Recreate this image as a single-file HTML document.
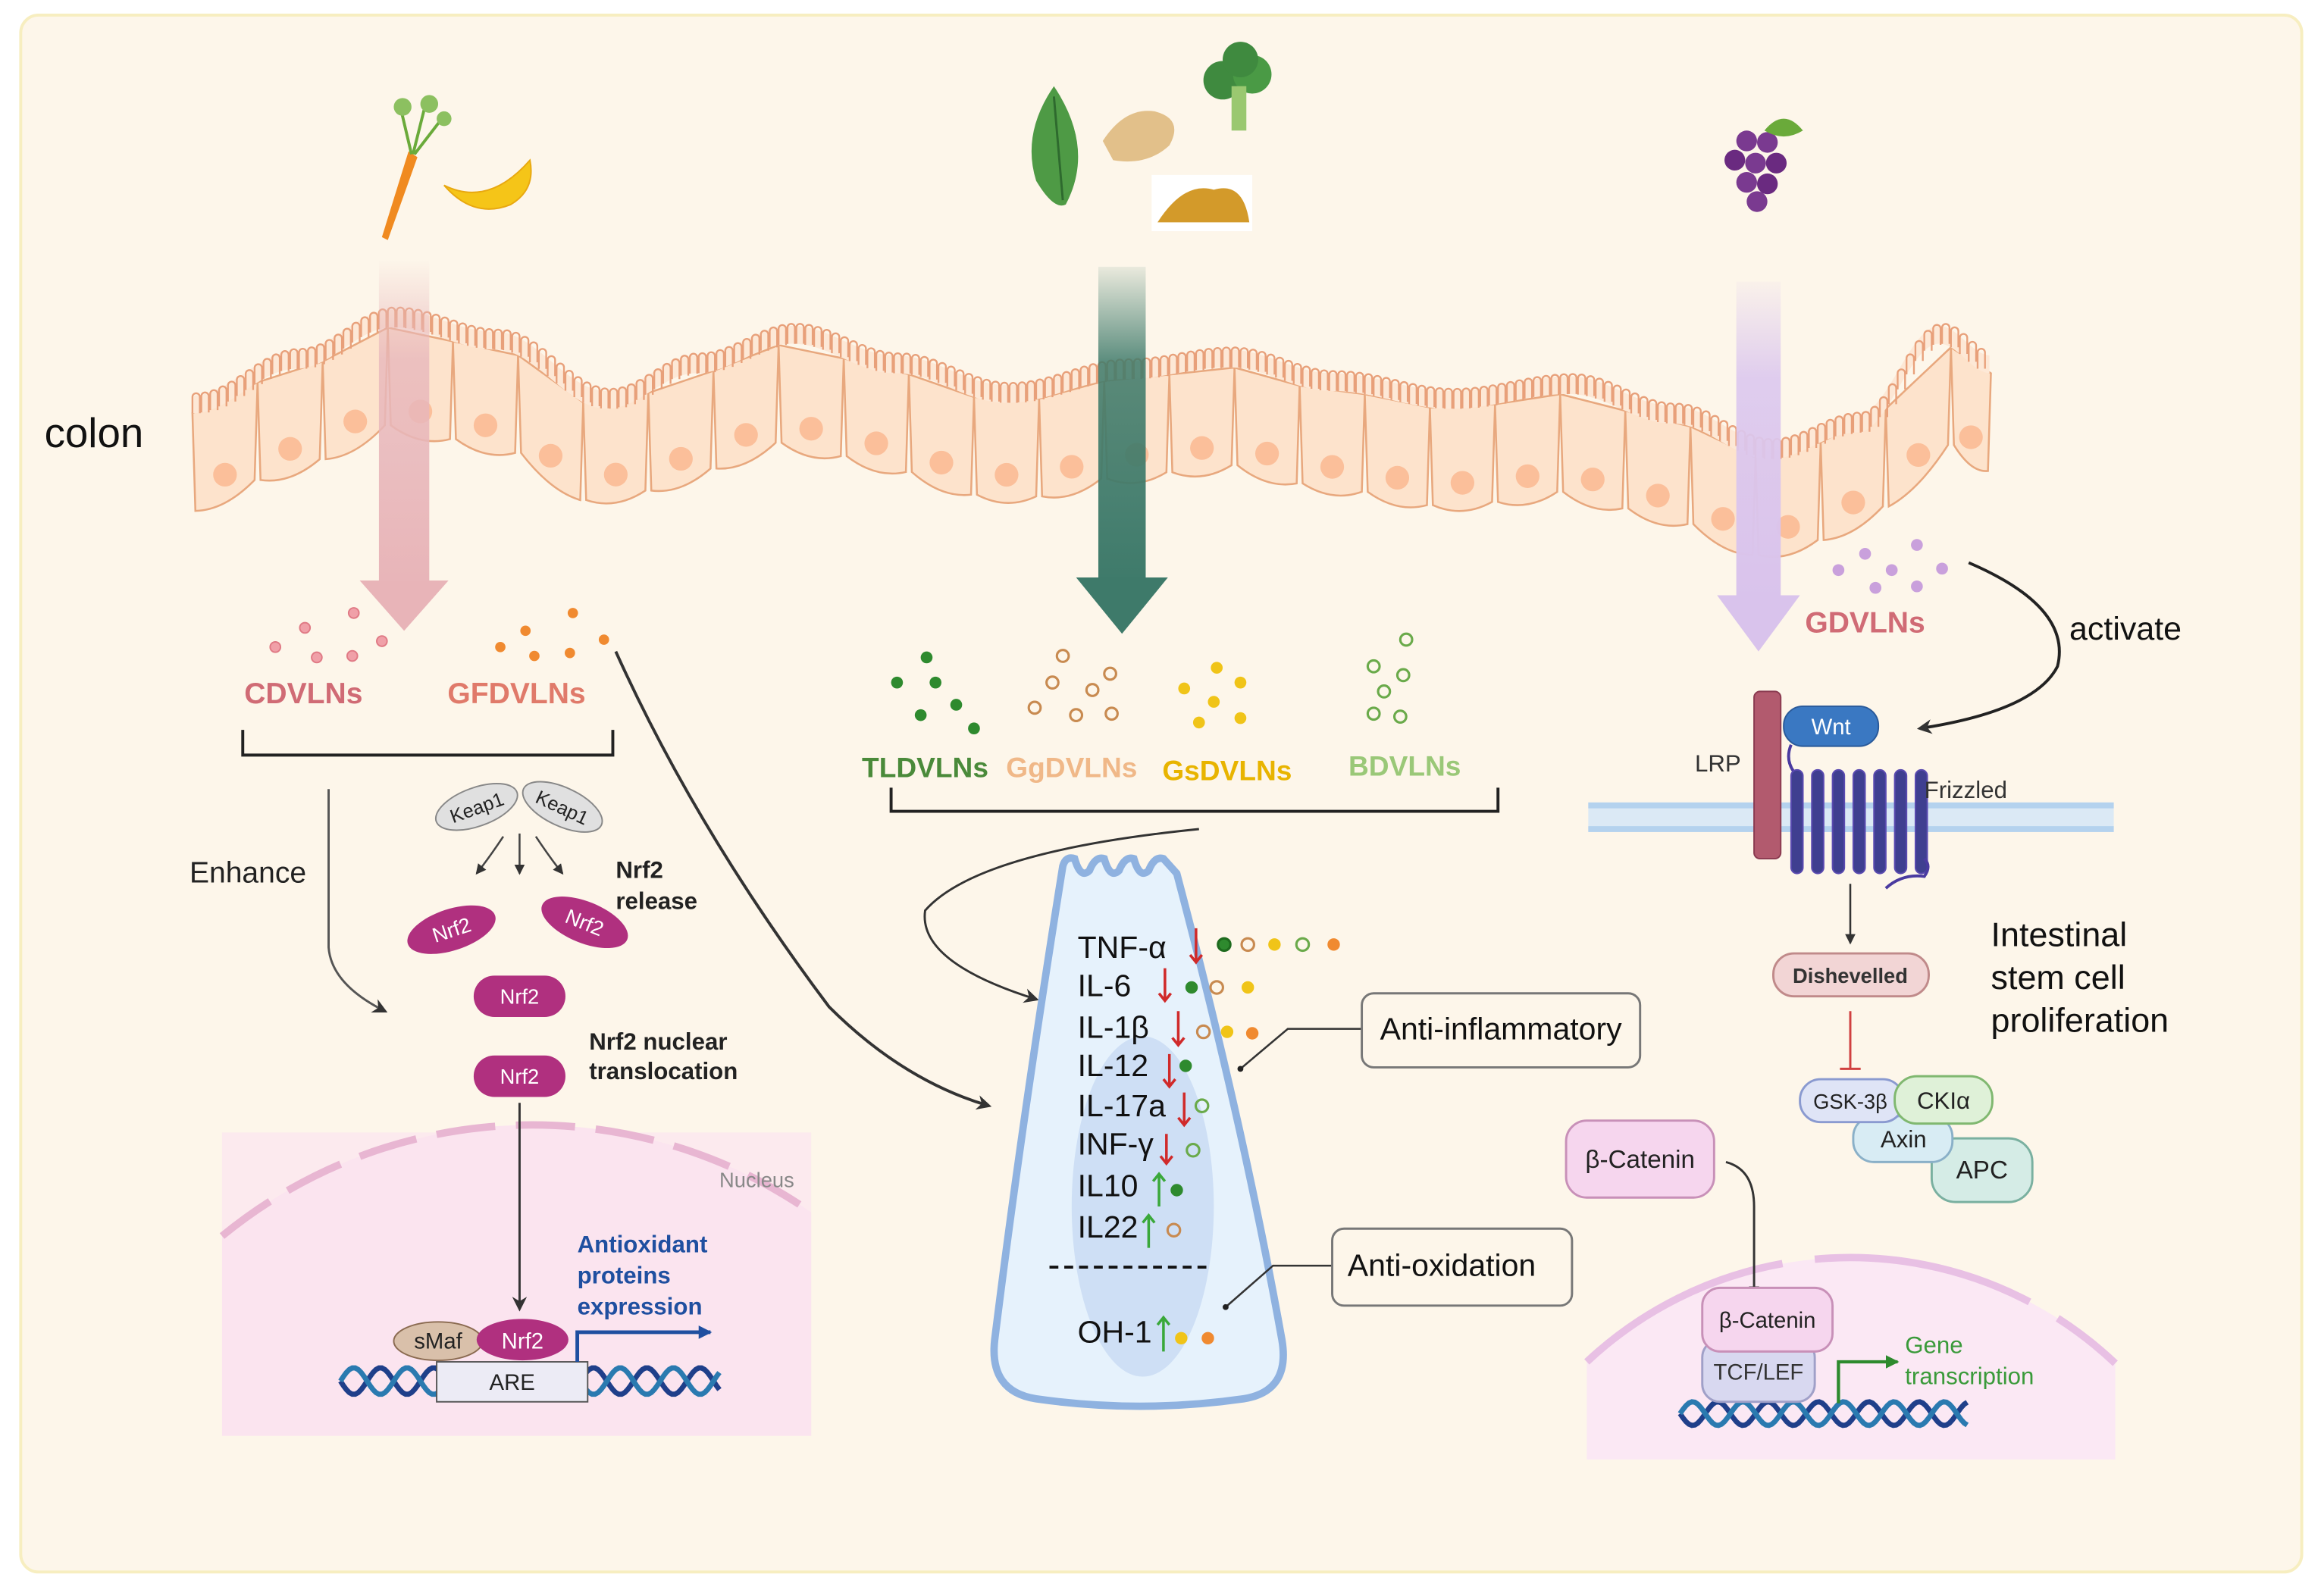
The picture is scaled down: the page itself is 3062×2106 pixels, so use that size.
<!DOCTYPE html>
<html><head><meta charset="utf-8"><style>
html,body{margin:0;padding:0;background:#fff;width:3062px;height:2106px;overflow:hidden;}
svg{display:block;font-family:"Liberation Sans",sans-serif;}
</style></head><body>
<svg id="s" width="3062" height="2106" viewBox="0 0 1568 1078" xmlns="http://www.w3.org/2000/svg">
<defs>
<linearGradient id="gp" x1="0" y1="0" x2="0" y2="1"><stop offset="0" stop-color="#e8b8bc" stop-opacity="0"/><stop offset="0.3" stop-color="#e8b8bc" stop-opacity="0.8"/><stop offset="1" stop-color="#e8b4b8"/></linearGradient>
<linearGradient id="gt" x1="0" y1="0" x2="0" y2="1"><stop offset="0" stop-color="#3e7a6a" stop-opacity="0.1"/><stop offset="0.3" stop-color="#3e7a6a" stop-opacity="0.85"/><stop offset="1" stop-color="#3e7a6a"/></linearGradient>
<linearGradient id="gl" x1="0" y1="0" x2="0" y2="1"><stop offset="0" stop-color="#dcc8ee" stop-opacity="0.1"/><stop offset="0.3" stop-color="#dcc8ee" stop-opacity="0.9"/><stop offset="1" stop-color="#d9c3ec"/></linearGradient>
<marker id="ah" markerWidth="10" markerHeight="10" refX="8" refY="5" orient="auto" markerUnits="userSpaceOnUse"><path d="M0,0 L10,5 L0,10 L3,5z" fill="#333"/></marker>
<marker id="ahs" markerWidth="7" markerHeight="7" refX="6" refY="3.5" orient="auto" markerUnits="userSpaceOnUse"><path d="M0,0 L7,3.5 L0,7z" fill="#333"/></marker>
<marker id="ahb" markerWidth="9" markerHeight="9" refX="8" refY="4.5" orient="auto" markerUnits="userSpaceOnUse"><path d="M0,0 L9,4.5 L0,9z" fill="#1f4fa0"/></marker>
<marker id="ahg" markerWidth="9" markerHeight="9" refX="8" refY="4.5" orient="auto" markerUnits="userSpaceOnUse"><path d="M0,0 L9,4.5 L0,9z" fill="#2d8a2d"/></marker>
</defs>
<rect width="1568" height="1078" fill="#fff"/>
<rect x="14" y="10" width="1541" height="1052" rx="12" fill="#fdf6ea" stroke="#f7eec0" stroke-width="2"/>

<g id="colon"></g>
<text x="30" y="302" font-size="28" fill="#111">colon</text>

<rect x="256" y="175" width="34" height="225" fill="url(#gp)"/>
<path d="M243,392 L303,392 L273,426z" fill="#e8b4b8"/>
<rect x="742" y="180" width="32" height="215" fill="url(#gt)"/>
<path d="M727,390 L789,390 L758,428z" fill="#3e7a6a"/>
<rect x="1173" y="190" width="30" height="215" fill="url(#gl)"/>
<path d="M1160,402 L1216,402 L1188,440z" fill="#d9c3ec"/>

<path d="M276,102 L258,160 L262,162 L282,106z" fill="#f08a20"/>
<g stroke="#6aaa3a" stroke-width="2" fill="none"><path d="M278,104 L270,70 M279,104 L288,68 M280,104 L300,78"/></g>
<circle cx="272" cy="72" r="6" fill="#8cc060"/><circle cx="290" cy="70" r="6" fill="#8cc060"/><circle cx="300" cy="80" r="5" fill="#8cc060"/>
<path d="M300,125 Q330,140 358,108 Q362,128 345,138 Q320,148 300,125z" fill="#f5c518" stroke="#e8a810"/>
<path d="M712,58 Q690,90 700,122 Q712,142 720,138 Q740,100 712,58z" fill="#4e9a45"/>
<path d="M712,65 L718,135" stroke="#2e6a2e" stroke-width="1.5"/>
<path d="M745,95 Q760,72 780,75 Q800,80 790,98 Q775,112 752,108z" fill="#e2c08a"/>
<circle cx="826" cy="54" r="13" fill="#3f8a3f"/><circle cx="846" cy="50" r="13" fill="#4a9a45"/><circle cx="838" cy="40" r="12" fill="#3f8a3f"/>
<rect x="832" y="58" width="10" height="30" fill="#9ac870"/>
<rect x="778" y="118" width="68" height="38" fill="#fff"/>
<path d="M782,150 Q800,122 820,128 Q840,122 844,150z" fill="#d39a2a"/>
<circle cx="1180" cy="95" r="7" fill="#7a3a90"/><circle cx="1194" cy="96" r="7" fill="#7a3a90"/><circle cx="1172" cy="108" r="7" fill="#6a2a80"/><circle cx="1186" cy="110" r="7" fill="#7a3a90"/><circle cx="1200" cy="110" r="7" fill="#6a2a80"/><circle cx="1180" cy="123" r="7" fill="#7a3a90"/><circle cx="1194" cy="124" r="7" fill="#6a2a80"/><circle cx="1187" cy="136" r="7" fill="#7a3a90"/>
<path d="M1192,88 Q1205,72 1218,88 Q1205,96 1192,88z" fill="#6aaa3a"/>

<g fill="#f0a0a8" stroke="#e07a85"><circle cx="186" cy="437" r="3.5"/><circle cx="206" cy="424" r="3.5"/><circle cx="214" cy="444" r="3.5"/><circle cx="239" cy="414" r="3.5"/><circle cx="238" cy="443" r="3.5"/><circle cx="258" cy="433" r="3.5"/></g>
<g fill="#f08a30"><circle cx="338" cy="437" r="3.5"/><circle cx="355" cy="426" r="3.5"/><circle cx="361" cy="443" r="3.5"/><circle cx="387" cy="414" r="3.5"/><circle cx="385" cy="441" r="3.5"/><circle cx="408" cy="432" r="3.5"/></g>
<text x="205" y="475" font-size="20" font-weight="bold" fill="#d06b75" text-anchor="middle">CDVLNs</text>
<text x="349" y="475" font-size="20" font-weight="bold" fill="#e07a6a" text-anchor="middle">GFDVLNs</text>
<path d="M164,493 V510 H414 V493" fill="none" stroke="#222" stroke-width="2"/>
<text x="128" y="596" font-size="20" fill="#222">Enhance</text>
<path d="M222,533 V640 Q224,665 260,683" fill="none" stroke="#555" stroke-width="1.5" marker-end="url(#ah)"/>
<path d="M416,440 Q470,560 560,680 Q610,730 668,747" fill="none" stroke="#333" stroke-width="2" marker-end="url(#ah)"/>
<g transform="translate(322,545) rotate(-20)"><ellipse rx="29" ry="13" fill="#e0e0e0" stroke="#888"/><text y="5" font-size="13" text-anchor="middle" fill="#222">Keap1</text></g>
<g transform="translate(380,545) rotate(25)"><ellipse rx="29" ry="13" fill="#e0e0e0" stroke="#888"/><text y="5" font-size="13" text-anchor="middle" fill="#222">Keap1</text></g>
<g stroke="#444" stroke-width="1.3" fill="none"><path d="M340,565 Q330,580 322,590" marker-end="url(#ahs)"/><path d="M351,563 V590" marker-end="url(#ahs)"/><path d="M362,565 Q372,580 380,590" marker-end="url(#ahs)"/></g>
<g transform="translate(305,628) rotate(-18)"><ellipse rx="31" ry="14" fill="#b0307f"/><text y="5" font-size="14" text-anchor="middle" fill="#fff">Nrf2</text></g>
<g transform="translate(395,623) rotate(22)"><ellipse rx="31" ry="14" fill="#b0307f"/><text y="5" font-size="14" text-anchor="middle" fill="#fff">Nrf2</text></g>
<rect x="320" y="659" width="62" height="28" rx="14" fill="#b0307f"/><text x="351" y="678" font-size="14" text-anchor="middle" fill="#fff">Nrf2</text>
<rect x="320" y="713" width="62" height="28" rx="14" fill="#b0307f"/><text x="351" y="732" font-size="14" text-anchor="middle" fill="#fff">Nrf2</text>
<text font-size="16" font-weight="bold" fill="#222"><tspan x="416" y="593">Nrf2</tspan><tspan x="416" y="614">release</tspan><tspan x="398" y="709">Nrf2 nuclear</tspan><tspan x="398" y="729">translocation</tspan></text>
<rect x="150" y="765" width="398" height="205" fill="#fbe6ef" opacity="0.7"/>
<path d="M150,835 A330,330 0 0 1 548,819 L548,970 L150,970 Z" fill="#fbe4ef"/>
<path d="M150,835 A330,330 0 0 1 548,819" fill="none" stroke="#e8b6d2" stroke-width="5" stroke-dasharray="40 14"/>
<text x="486" y="802" font-size="14" fill="#888">Nucleus</text>
<path d="M351,745 V884" stroke="#333" stroke-width="1.5" marker-end="url(#ah)"/>
<g id="dna1"></g>
<rect x="295" y="920" width="102" height="27" fill="#ecebf5" stroke="#555"/><text x="346" y="939" font-size="15" text-anchor="middle" fill="#222">ARE</text>
<ellipse cx="296" cy="906" rx="30" ry="13" fill="#d9c0aa" stroke="#8a6a50"/><text x="296" y="911" font-size="15" text-anchor="middle" fill="#222">sMaf</text>
<ellipse cx="353" cy="905" rx="31" ry="14" fill="#b0307f"/><text x="353" y="911" font-size="15" text-anchor="middle" fill="#fff">Nrf2</text>
<path d="M390,920 V900 H480" fill="none" stroke="#1f4fa0" stroke-width="2.5" marker-end="url(#ahb)"/>
<text font-size="16" font-weight="bold" fill="#1f4fa0"><tspan x="390" y="846">Antioxidant</tspan><tspan x="390" y="867">proteins</tspan><tspan x="390" y="888">expression</tspan></text>

<g fill="#2e8a2e"><circle cx="626" cy="444" r="4"/><circle cx="606" cy="461" r="4"/><circle cx="632" cy="461" r="4"/><circle cx="646" cy="476" r="4"/><circle cx="622" cy="483" r="4"/><circle cx="658" cy="492" r="4"/></g>
<g fill="none" stroke="#c88a50" stroke-width="1.6"><circle cx="718" cy="443" r="4"/><circle cx="711" cy="461" r="4"/><circle cx="738" cy="466" r="4"/><circle cx="750" cy="455" r="4"/><circle cx="699" cy="478" r="4"/><circle cx="727" cy="483" r="4"/><circle cx="751" cy="482" r="4"/></g>
<g fill="#f0c418"><circle cx="822" cy="451" r="4"/><circle cx="800" cy="465" r="4"/><circle cx="838" cy="461" r="4"/><circle cx="820" cy="474" r="4"/><circle cx="810" cy="488" r="4"/><circle cx="838" cy="485" r="4"/></g>
<g fill="none" stroke="#6aaa4a" stroke-width="1.6"><circle cx="950" cy="432" r="4"/><circle cx="928" cy="450" r="4"/><circle cx="948" cy="456" r="4"/><circle cx="935" cy="467" r="4"/><circle cx="928" cy="482" r="4"/><circle cx="946" cy="484" r="4"/></g>
<g font-size="19" font-weight="bold" text-anchor="middle">
<text x="625" y="525" fill="#4a8a3a">TLDVLNs</text><text x="724" y="525" fill="#f0b888">GgDVLNs</text><text x="829" y="527" fill="#e8b400">GsDVLNs</text><text x="949" y="524" fill="#9ac878">BDVLNs</text></g>
<path d="M602,532 V548 H1012 V532" fill="none" stroke="#222" stroke-width="2"/>
<path d="M810,560 Q660,575 625,615 Q620,650 700,675" fill="none" stroke="#333" stroke-width="1.5" marker-end="url(#ah)"/>
<path d="M718,585 Q720,578 726,580 Q730,594 736,588 Q740,578 746,580 Q750,594 756,588 Q760,578 766,580 Q770,594 776,588 Q780,578 786,580 L795,590 Q840,760 866,905 Q872,940 840,945 Q770,955 700,945 Q668,940 672,905 Q690,760 718,585z" fill="#e6f2fc" stroke="#8fb2e0" stroke-width="5"/>
<ellipse cx="772" cy="815" rx="48" ry="115" fill="#c9dcf3" opacity="0.85"/>
<g font-size="21" fill="#111">
<text x="728" y="647">TNF-α</text><text x="728" y="673">IL-6</text><text x="728" y="701">IL-1β</text><text x="728" y="727">IL-12</text><text x="728" y="754">IL-17a</text><text x="728" y="780">INF-γ</text><text x="728" y="808">IL10</text><text x="728" y="836">IL22</text><text x="728" y="907">OH-1</text></g>
<path d="M709,856 H815" stroke="#111" stroke-width="2" stroke-dasharray="6 4"/>
<g stroke="#d02a2a" stroke-width="1.8" fill="none">
<path d="M808,627 V650 M804,645 L808,650 L812,645"/><path d="M787,654 V676 M783,671 L787,676 L791,671"/><path d="M796,683 V706 M792,701 L796,706 L800,701"/><path d="M790,712 V734 M786,729 L790,734 L794,729"/><path d="M800,738 V760 M796,755 L800,760 L804,755"/><path d="M788,766 V786 M784,781 L788,786 L792,781"/></g>
<g stroke="#3aa83a" stroke-width="1.8" fill="none">
<path d="M783,815 V793 M779,798 L783,793 L787,798"/><path d="M776,843 V821 M772,826 L776,821 L780,826"/><path d="M786,913 V890 M782,895 L786,890 L790,895"/></g>
<g stroke-width="1.6">
<circle cx="827" cy="638" r="4.2" fill="#2e8a2e" stroke="#1e6a1e"/><circle cx="843" cy="638" r="4.2" fill="none" stroke="#c88a50"/><circle cx="861" cy="638" r="4.2" fill="#f0c418" stroke="none"/><circle cx="880" cy="638" r="4.2" fill="none" stroke="#6aaa4a"/><circle cx="901" cy="638" r="4.2" fill="#f08a30" stroke="none"/>
<circle cx="805" cy="667" r="4.2" fill="#2e8a2e" stroke="none"/><circle cx="822" cy="667" r="4.2" fill="none" stroke="#c88a50"/><circle cx="843" cy="667" r="4.2" fill="#f0c418" stroke="none"/>
<circle cx="813" cy="697" r="4.2" fill="none" stroke="#c88a50"/><circle cx="829" cy="697" r="4.2" fill="#f0c418" stroke="none"/><circle cx="846" cy="698" r="4.2" fill="#f08a30" stroke="none"/>
<circle cx="801" cy="720" r="4.2" fill="#2e8a2e" stroke="none"/>
<circle cx="812" cy="747" r="4.2" fill="none" stroke="#6aaa4a"/>
<circle cx="806" cy="777" r="4.2" fill="none" stroke="#6aaa4a"/>
<circle cx="795" cy="804" r="4.2" fill="#2e8a2e" stroke="none"/>
<circle cx="793" cy="831" r="4.2" fill="none" stroke="#c88a50"/>
<circle cx="798" cy="904" r="4.2" fill="#f0c418" stroke="none"/><circle cx="816" cy="904" r="4.2" fill="#f08a30" stroke="none"/></g>
<path d="M838,722 L870,695 H920" fill="none" stroke="#333" stroke-width="1.3"/><circle cx="838" cy="722" r="2" fill="#222"/>
<rect x="920" y="671" width="188" height="50" rx="8" fill="#fdf6ea" stroke="#777" stroke-width="1.5"/><text x="1014" y="702" font-size="21" text-anchor="middle" fill="#111">Anti-inflammatory</text>
<path d="M828,883 L860,855 H900" fill="none" stroke="#333" stroke-width="1.3"/><circle cx="828" cy="883" r="2" fill="#222"/>
<rect x="900" y="830" width="162" height="52" rx="8" fill="#fdf6ea" stroke="#777" stroke-width="1.5"/><text x="974" y="862" font-size="21" text-anchor="middle" fill="#111">Anti-oxidation</text>

<g fill="#c9a0dc"><circle cx="1242" cy="385" r="4"/><circle cx="1260" cy="374" r="4"/><circle cx="1278" cy="385" r="4"/><circle cx="1295" cy="368" r="4"/><circle cx="1312" cy="384" r="4"/><circle cx="1295" cy="396" r="4"/><circle cx="1267" cy="397" r="4"/></g>
<text x="1260" y="427" font-size="20" font-weight="bold" fill="#d06b75" text-anchor="middle">GDVLNs</text>
<text x="1398" y="432" font-size="22" fill="#111">activate</text>
<path d="M1330,380 Q1400,410 1390,450 Q1375,480 1297,492" fill="none" stroke="#222" stroke-width="2" marker-end="url(#ah)"/>
<rect x="1073" y="542" width="355" height="20" fill="#dbe9f5"/>
<path d="M1073,544 H1428 M1073,560 H1428" stroke="#b4d2ee" stroke-width="4"/>
<rect x="1185" y="467" width="18" height="113" rx="4" fill="#b25a6e" stroke="#8a3a50"/>
<text x="1145" y="521" font-size="16" fill="#333">LRP</text>
<path d="M1210,503 Q1205,515 1215,525" fill="none" stroke="#4a3aa0" stroke-width="2"/>
<g fill="#3f3f90" stroke="#5a4ab0" stroke-width="1">
<rect x="1210" y="520" width="8" height="70" rx="4"/><rect x="1224" y="520" width="8" height="70" rx="4"/><rect x="1238" y="520" width="8" height="70" rx="4"/><rect x="1252" y="520" width="8" height="70" rx="4"/><rect x="1266" y="520" width="8" height="70" rx="4"/><rect x="1280" y="520" width="8" height="70" rx="4"/><rect x="1294" y="520" width="8" height="70" rx="4"/></g>
<path d="M1274,600 Q1285,590 1300,592 Q1305,585 1300,580" fill="none" stroke="#4a3aa0" stroke-width="2"/>
<rect x="1205" y="477" width="64" height="27" rx="13" fill="#3a78c2" stroke="#2a5a9a"/><text x="1237" y="496" font-size="15" fill="#fff" text-anchor="middle">Wnt</text>
<text x="1300" y="539" font-size="16" fill="#333">Frizzled</text>
<path d="M1250,597 V637" stroke="#333" stroke-width="1.3" marker-end="url(#ahs)"/>
<rect x="1198" y="644" width="105" height="29" rx="14" fill="#f2d5d5" stroke="#c08a8a" stroke-width="1.5"/><text x="1250" y="664" font-size="14" font-weight="bold" fill="#333" text-anchor="middle">Dishevelled</text>
<path d="M1250,683 V722 M1243,722 H1257" stroke="#d04040" stroke-width="1.5"/>
<rect x="1305" y="769" width="68" height="43" rx="16" fill="#d5ece6" stroke="#7ab0a0" stroke-width="1.5"/><text x="1339" y="796" font-size="17" text-anchor="middle" fill="#222">APC</text>
<rect x="1252" y="754" width="67" height="31" rx="14" fill="#d8ecf4" stroke="#8ab0c8" stroke-width="1.5"/><text x="1286" y="775" font-size="16" text-anchor="middle" fill="#222">Axin</text>
<rect x="1216" y="729" width="70" height="29" rx="14" fill="#dfe4f6" stroke="#8a9ad0" stroke-width="1.5"/><text x="1250" y="749" font-size="14" text-anchor="middle" fill="#222">GSK-3β</text>
<rect x="1280" y="727" width="66" height="32" rx="15" fill="#dff1d8" stroke="#80b870" stroke-width="1.5"/><text x="1313" y="749" font-size="16" text-anchor="middle" fill="#222">CKIα</text>
<text font-size="23" fill="#111"><tspan x="1345" y="639">Intestinal</tspan><tspan x="1345" y="668">stem cell</tspan><tspan x="1345" y="697">proliferation</tspan></text>
<rect x="1058" y="757" width="100" height="52" rx="14" fill="#f6d6ee" stroke="#c890b8" stroke-width="1.5"/><text x="1108" y="789" font-size="17" text-anchor="middle" fill="#222">β-Catenin</text>
<path d="M1072,920 A260,260 0 0 1 1429,921 L1429,986 L1072,986 Z" fill="#fbe8f4"/>
<path d="M1072,920 A260,260 0 0 1 1429,921" fill="none" stroke="#e8c0e4" stroke-width="5" stroke-dasharray="150 22"/>
<path d="M1166,785 Q1185,790 1185,815 V875" fill="none" stroke="#333" stroke-width="1.5" marker-end="url(#ahs)"/>
<g id="dna2"></g>
<rect x="1150" y="905" width="76" height="42" rx="12" fill="#d8d8f0" stroke="#a0a0c8" stroke-width="1.5"/><text x="1188" y="932" font-size="15" text-anchor="middle" fill="#333">TCF/LEF</text>
<rect x="1150" y="870" width="88" height="43" rx="12" fill="#f6d6ee" stroke="#c890b8" stroke-width="1.5"/><text x="1194" y="897" font-size="15" text-anchor="middle" fill="#222">β-Catenin</text>
<path d="M1242,948 V920 H1282" fill="none" stroke="#2d8a2d" stroke-width="2.2" marker-end="url(#ahg)"/>
<text font-size="16" fill="#3a9a3a"><tspan x="1287" y="914">Gene</tspan><tspan x="1287" y="935">transcription</tspan></text>
</svg>
<script>
(function(){
var NS="http://www.w3.org/2000/svg";
function el(t,a,p){var e=document.createElementNS(NS,t);for(var k in a)e.setAttribute(k,a[k]);p.appendChild(e);return e;}
var pts=[[130,265],[200,235],[265,207],[335,222],[410,262],[470,238],[535,218],[605,238],[680,258],[760,242],[830,234],[900,250],[980,262],[1060,252],[1130,272],[1195,296],[1255,278],[1310,218],[1345,238]];
function top(x){for(var i=0;i<pts.length-1;i++){var a=pts[i],b=pts[i+1];if(x<=b[0]){var t=(x-a[0])/(b[0]-a[0]);t=(1-Math.cos(Math.PI*t))/2;return a[1]+(b[1]-a[1])*t;}}return pts[pts.length-1][1];}
var g=document.getElementById("colon");
var H=72,w=44;
var mv="";
for(var x=130;x<1345;x+=w){var x2=Math.min(x+w,1345);var y1=top(x)+14,y2=top(x2)+14;
 el("path",{d:"M"+x+","+y1+" L"+x2+","+y2+" L"+(x2-2)+","+(y2+H-6)+" Q"+((x+x2)/2)+","+((y1+y2)/2+H+4)+" "+(x+2)+","+(y1+H-6)+"z",fill:"#fde3cc",stroke:"#e8a87e","stroke-width":1.3},g);
 el("circle",{cx:(x+x2)/2,cy:(y1+y2)/2+H-20,r:8,fill:"#fbbf9a"},g);}
el("path",{d:(function(){var d="";for(var x=130;x<1345;x+=2){d+=(x==130?"M":"L")+x+","+(top(x)+14);}for(var x=1344;x>=130;x-=2){d+="L"+x+","+(top(x)+2);}return d+"z";})(),fill:"#fde8d6"},g);
for(var x=130;x<1342;x+=6){var y=top(x)+14;mv+="M"+x+","+y+" V"+(y-11)+" a2.5,2.5 0 0 1 5,0 V"+y+" ";}
el("path",{d:mv,stroke:"#e8a07a","stroke-width":1.2,fill:"none"},g);
function dna(id,x0,x1,yc,amp,per){var gg=document.getElementById(id);var a="",b="";for(var x=x0;x<=x1;x+=2){var t=(x-x0)/per*2*Math.PI;a+=(x==x0?"M":"L")+x+","+(yc+amp*Math.sin(t));b+=(x==x0?"M":"L")+x+","+(yc-amp*Math.sin(t));}
el("path",{d:a,stroke:"#1f3f8a","stroke-width":3.5,fill:"none"},gg);el("path",{d:b,stroke:"#2a7ab0","stroke-width":3.5,fill:"none"},gg);}
dna("dna1",230,486,933,9,36);
dna("dna2",1135,1330,955,8,34);
})();
</script>
</body></html>
